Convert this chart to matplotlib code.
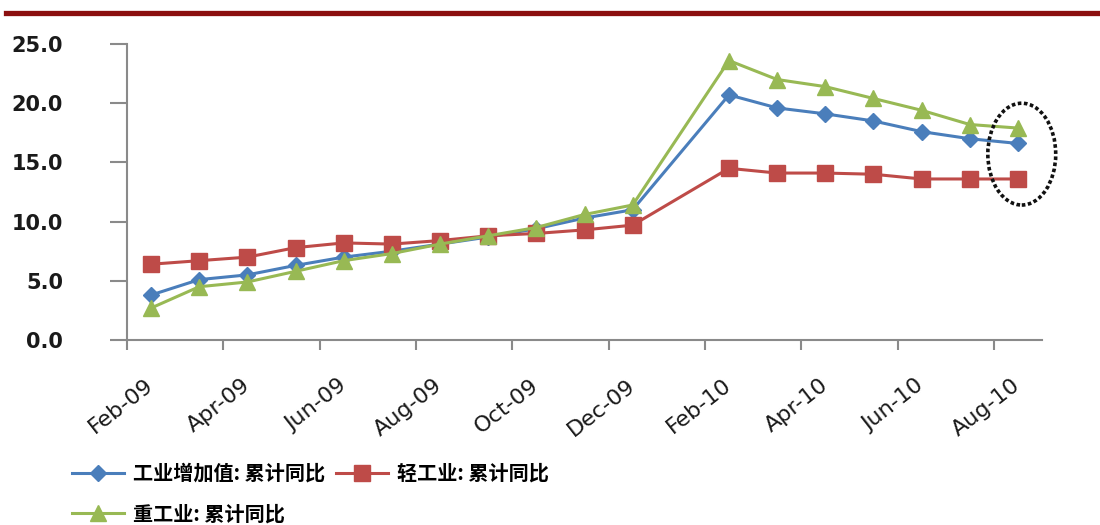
import numpy as np
import matplotlib.pyplot as plt
from matplotlib.patches import Ellipse
from matplotlib.lines import Line2D

plt.rcParams['font.family'] = ['DejaVu Sans']

# full month axis (Jan-10 has no data)
months = ['Feb-09', 'Mar-09', 'Apr-09', 'May-09', 'Jun-09', 'Jul-09', 'Aug-09',
          'Sep-09', 'Oct-09', 'Nov-09', 'Dec-09', 'Jan-10', 'Feb-10', 'Mar-10',
          'Apr-10', 'May-10', 'Jun-10', 'Jul-10', 'Aug-10']
data_months = [m for m in months if m != 'Jan-10']

iva_total = [3.8, 5.1, 5.5, 6.3, 7.0, 7.5, 8.1, 8.7, 9.4, 10.3, 11.0,
             20.7, 19.6, 19.1, 18.5, 17.6, 17.0, 16.6]
iva_light = [6.4, 6.7, 7.0, 7.8, 8.2, 8.1, 8.4, 8.8, 9.0, 9.3, 9.7,
             14.5, 14.1, 14.1, 14.0, 13.6, 13.6, 13.6]
iva_heavy = [2.7, 4.5, 4.9, 5.8, 6.7, 7.3, 8.1, 8.8, 9.5, 10.6, 11.4,
             23.6, 22.0, 21.4, 20.4, 19.4, 18.2, 17.9]

labels = ['工业增加值: 累计同比', '轻工业: 累计同比', '重工业: 累计同比']
colors = ['#4A7EBB', '#BE4B48', '#98B954']

x = [months.index(m) for m in data_months]

fig = plt.figure(figsize=(11, 5.25), dpi=100)
ax = fig.add_axes([127 / 1100, 1 - 340 / 525, (1042 - 127) / 1100, (340 - 44) / 525])

l1, = ax.plot(x, iva_total, color=colors[0], lw=2.2, marker='D', ms=8.5, label=labels[0])
l2, = ax.plot(x, iva_light, color=colors[1], lw=2.2, marker='s', ms=11, label=labels[1])
l3, = ax.plot(x, iva_heavy, color=colors[2], lw=2.2, marker='^', ms=12, label=labels[2])

ax.set_xlim(-0.5, len(months) - 0.5)
ax.set_ylim(0, 25)
ax.set_yticks(np.arange(0, 26, 5))
ax.set_yticklabels([f'{v:.1f}' for v in np.arange(0, 26, 5)], fontweight='bold')

# ticks on month boundaries, labels under the points
ax.set_xticks(np.arange(-0.5, len(months) - 0.5, 2))
ax.set_xticklabels([])
ax.set_xticks(np.arange(0, len(months), 2), minor=True)
ax.set_xticklabels(months[::2], minor=True, rotation=38, ha='right',
                   rotation_mode='anchor', va='center', fontsize=16, color='#1a1a1a')
ax.tick_params(axis='x', which='minor', length=0, pad=31)
ax.tick_params(axis='x', which='major', length=7, width=1.5, color='#8a8a8a', direction='out')
ax.tick_params(axis='y', length=12, width=1.5, color='#8a8a8a', pad=34,
               labelsize=15, labelcolor='#1a1a1a')

for s in ['top', 'right']:
    ax.spines[s].set_visible(False)
for s in ['left', 'bottom']:
    ax.spines[s].set_color('#8a8a8a')
    ax.spines[s].set_linewidth(1.5)

# dotted ellipse around the latest values
ax.add_patch(Ellipse((18.08, 15.7), 1.41, 8.6, fill=False, edgecolor='#111111',
                     linestyle=(0, (1, 0.7)), lw=2.6, clip_on=False, zorder=5))

# dark red rule at the top
fig.add_artist(Line2D([6 / 1100, 1.0], [1 - 12.5 / 525] * 2, color='#8B0F0F', lw=3.8))

leg = fig.legend([l1, l3, l2], [labels[0], labels[2], labels[1]], ncol=2,
                 loc='upper left', bbox_to_anchor=(72 / 1100, 1 - 463 / 525),
                 frameon=False, borderpad=0, borderaxespad=0, handlelength=2.6,
                 handletextpad=0.45, columnspacing=0.5, labelspacing=0.95,
                 prop={'family': ['Noto Sans CJK SC', 'DejaVu Sans'], 'size': 14.5,
                       'weight': 'bold'})

fig.savefig('out.png', dpi=100)
